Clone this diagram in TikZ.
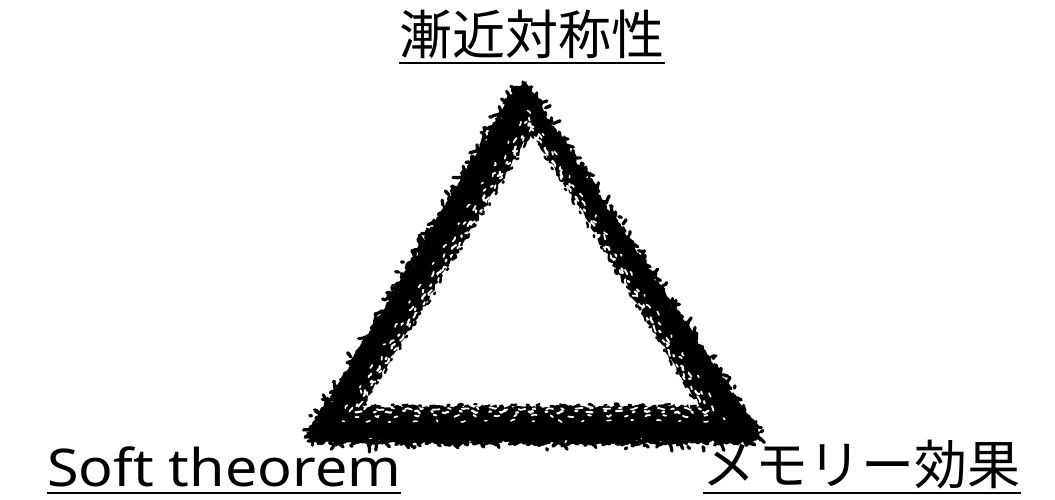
\documentclass[tikz,border=0pt]{standalone}
\usepackage{fontspec}
\setmainfont{Noto Sans CJK JP}
\newfontfamily\latinfont{Noto Sans}
\usetikzlibrary{decorations.pathmorphing,calc}
\begin{document}
\begin{tikzpicture}[x=1pt,y=-1pt,
  lbl/.style={inner sep=0pt, font=\fontsize{53}{60}\selectfont},
  ul/.style={line width=2.4pt, black},
  band/.style={black, even odd rule, decorate,
    decoration={random steps, segment length=3pt, amplitude=2pt}},
  speck/.style={white, line width=2pt, line cap=round, line join=round, decorate,
    decoration={random steps, segment length=2.5pt, amplitude=1.4pt}},
  rim/.style={black, line width=3.2pt, line cap=round, line join=round, rounded corners=12pt, decorate,
    decoration={random steps, segment length=2.5pt, amplitude=1.6pt}}]
\useasboundingbox (0,0) rectangle (1055,500);
\fill[white] (0,0) rectangle (1055,500);
% outer and inner outlines of the brushed triangle
\coordinate (oA) at (522,84);
\coordinate (oL) at (309,439);
\coordinate (oR) at (759,439);
\coordinate (iA) at (532,132);
\coordinate (iL) at (362,406);
\coordinate (iR) at (699,406);
\foreach \n/\f in {m/-0.02, c/0.55, d/0.7, e/0.82, f/0.92, g/1.03} {
  \coordinate (\n A) at ($(oA)!\f!(iA)$);
  \coordinate (\n L) at ($(oL)!\f!(iL)$);
  \coordinate (\n R) at ($(oR)!\f!(iR)$);
}
\pgfmathsetseed{23}
\fill[band] [rounded corners=14pt] (oA) -- (oR) -- (oL) -- cycle
  [sharp corners] (iA) -- (iR) -- (iL) -- cycle;
% ragged outer and inner rims
\draw[rim, dash pattern=on 8pt off 6pt on 3pt off 9pt] (mA) -- (mR) -- (mL) -- cycle;
\draw[rim, sharp corners, line width=2.4pt, dash pattern=on 5pt off 10pt on 2pt off 13pt] (gA) -- (gR) -- (gL) -- cycle;
% white texture streaks
\draw[speck, line width=1.6pt, dash pattern=on 4pt off 26pt on 2pt off 21pt] (cA) -- (cR) -- (cL) -- cycle;
\draw[speck, line width=1.8pt, dash pattern=on 3pt off 17pt on 5pt off 19pt] (dA) -- (dR) -- (dL) -- cycle;
\draw[speck, line width=2.2pt, dash pattern=on 6pt off 11pt on 2pt off 13pt] (eA) -- (eR) -- (eL) -- cycle;
\draw[speck, line width=1.8pt, dash pattern=on 3pt off 9pt on 7pt off 12pt] (fA) -- (fR) -- (fL) -- cycle;
% labels
\node[lbl, anchor=base] (top) at (532,55) {漸近対称性};
\draw[ul] ([yshift=-8pt]top.base west) -- ([yshift=-8pt]top.base east);
\node[lbl, anchor=base west, font=\fontsize{52}{58}\latinfont] (soft) at (47,486) {\scalebox{1.105}[1]{Soft theorem}};
\draw[ul] ([yshift=-7pt]soft.base west) -- ([yshift=-7pt]soft.base east);
\node[lbl, anchor=base east] (mem) at (1021,484) {メモリー効果};
\draw[ul] ([yshift=-9pt]mem.base west) -- ([yshift=-9pt]mem.base east);
\end{tikzpicture}
\end{document}
